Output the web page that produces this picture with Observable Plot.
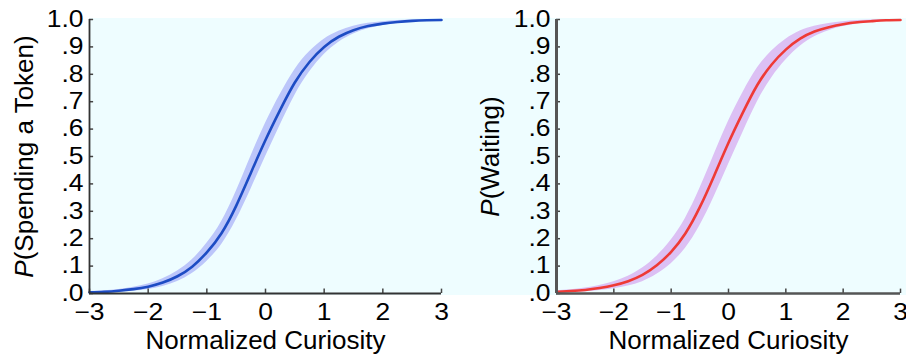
<!DOCTYPE html>
<html><head><meta charset="utf-8">
<script src="https://cdn.jsdelivr.net/npm/d3@7"></script>
<script src="https://cdn.jsdelivr.net/npm/@observablehq/plot@0.6"></script>
<style>
html,body{margin:0;padding:0;background:#fff;}
#wrap{position:relative;width:906px;height:363px;overflow:hidden;background:#fff;}
#bg{position:absolute;left:89px;top:18px;width:817px;height:277px;background:#eefdff;}
.panel{position:absolute;top:0;}
</style></head><body>
<div id="wrap"><div id="bg"></div></div>
<script>
// Normalized curiosity sample points (x)
const curiosity = [-3,-2.75,-2.5,-2.25,-2,-1.75,-1.5,-1.25,-1,-0.75,-0.5,-0.25,0,0.25,0.5,0.75,1,1.25,1.5,1.75,2,2.25,2.5,2.75,3];
// P(Spending a Token)
const pSpend = [0.004,0.006,0.010,0.016,0.025,0.040,0.063,0.098,0.150,0.220,0.320,0.440,0.560,0.670,0.770,0.845,0.900,0.937,0.961,0.976,0.985,0.991,0.995,0.997,0.998];
// half-width of the shaded band
const ciSpend = [0.003,0.004,0.005,0.007,0.010,0.014,0.019,0.025,0.033,0.042,0.052,0.060,0.061,0.056,0.047,0.037,0.028,0.020,0.014,0.010,0.007,0.005,0.003,0.002,0.001];
// P(Waiting)
const pWait = [0.006,0.009,0.013,0.020,0.030,0.045,0.068,0.103,0.152,0.220,0.315,0.430,0.550,0.660,0.760,0.835,0.890,0.930,0.956,0.972,0.983,0.990,0.994,0.997,0.998];
const ciWait = [0.004,0.005,0.007,0.009,0.013,0.018,0.025,0.033,0.043,0.055,0.068,0.077,0.079,0.073,0.062,0.049,0.038,0.028,0.019,0.013,0.009,0.006,0.004,0.003,0.002];

const xTicks = [-3,-2,-1,0,1,2,3];
const xTickLabels = ["\u22123","\u22122","\u22121","0","1","2","3"];
const yTicks = [0,0.1,0.2,0.3,0.4,0.5,0.6,0.7,0.8,0.9,1];
const yTickLabels = [".0",".1",".2",".3",".4",".5",".6",".7",".8",".9","1.0"];
const xTitle = "Normalized Curiosity";
const yTitleLeft = ["P", "(Spending a Token)"];
const yTitleRight = ["P", "(Waiting)"];

const FONT = "'Liberation Sans', Arial, Helvetica, sans-serif";

function panel(cfg) {
  const data = curiosity.map((x, i) => ({x, p: cfg.p[i], lo: cfg.p[i] - cfg.ci[i], hi: cfg.p[i] + cfg.ci[i]}));
  const svg = Plot.plot({
    width: cfg.width, height: 363,
    marginLeft: cfg.ml, marginRight: cfg.mr, marginTop: 19, marginBottom: 70,
    style: {background: "transparent", fontFamily: FONT, fontSize: "23px", color: "#000", overflow: "visible"},
    x: {domain: [-3, 3]},
    y: {domain: [0, 1]},
    marks: [
      Plot.areaY(data, {x: "x", y1: "lo", y2: "hi", fill: cfg.band, curve: "natural"}),
      Plot.line(data, {x: "x", y: "p", stroke: cfg.line, strokeWidth: 2.6, curve: "natural"}),
      Plot.ruleX(xTicks, {x: d => d, y1: 0, y2: 0.016, stroke: "#444", strokeWidth: 1.5}),
      Plot.ruleY(yTicks, {y: d => d, x1: -3, x2: -2.93, stroke: "#444", strokeWidth: 1.5}),
      Plot.ruleY([0], {stroke: cfg.axisColor, strokeWidth: cfg.xAxisW}),
      Plot.ruleX([-3], {stroke: cfg.axisColor, strokeWidth: cfg.yAxisW}),
      Plot.axisX({ticks: xTicks, tickSize: 0, tickPadding: 10, fill: "#000", fontSize: 23, label: null,
        tickFormat: d => xTickLabels[xTicks.indexOf(d)]}),
      Plot.axisY({ticks: yTicks, tickSize: 0, tickPadding: 6, fill: "#000", fontSize: 23, label: null,
        tickFormat: d => yTickLabels[yTicks.indexOf(d)]}),
      Plot.text([xTitle], {text: d => d, frameAnchor: "bottom", dy: 55, fontSize: 26, fill: "#000"}),
      Plot.text([cfg.yTitle.join("")], {text: d => d, frameAnchor: "left", textAnchor: "middle", dx: cfg.titleDx, rotate: -90, fontSize: 26, fill: "#000", className: "ytitle"})
    ]
  });
  const div = document.createElement("div");
  div.className = "panel";
  div.style.left = cfg.left + "px";
  div.appendChild(svg);
  document.getElementById("wrap").appendChild(div);
  // italic P in the y title
  const t = svg.querySelector(".ytitle text");
  if (t) {
    t.textContent = "";
    const ts = document.createElementNS("http://www.w3.org/2000/svg", "tspan");
    ts.setAttribute("font-style", "italic");
    ts.textContent = cfg.yTitle[0];
    t.appendChild(ts);
    t.appendChild(document.createTextNode(cfg.yTitle[1]));
  }
  // widen tick labels slightly, as in the reference
  svg.querySelectorAll('g[aria-label="x-axis tick label"] text, g[aria-label="y-axis tick label"] text').forEach(el => {
    const w = el.getComputedTextLength();
    el.setAttribute("textLength", (w * 1.15).toFixed(1));
    el.setAttribute("lengthAdjust", "spacingAndGlyphs");
  });
}

panel({left: 0, width: 460, ml: 89, mr: 19, p: pSpend, ci: ciSpend, line: "#1d4cc4", band: "#bcc6fa",
  yTitle: yTitleLeft, titleDx: -65, axisColor: "#333", xAxisW: 2.2, yAxisW: 1.8});
panel({left: 460, width: 446, ml: 96, mr: 6, p: pWait, ci: ciWait, line: "#ee3a36", band: "#dcc0f4",
  yTitle: yTitleRight, titleDx: -66, axisColor: "#555", xAxisW: 2.6, yAxisW: 3});
</script>
</body></html>
